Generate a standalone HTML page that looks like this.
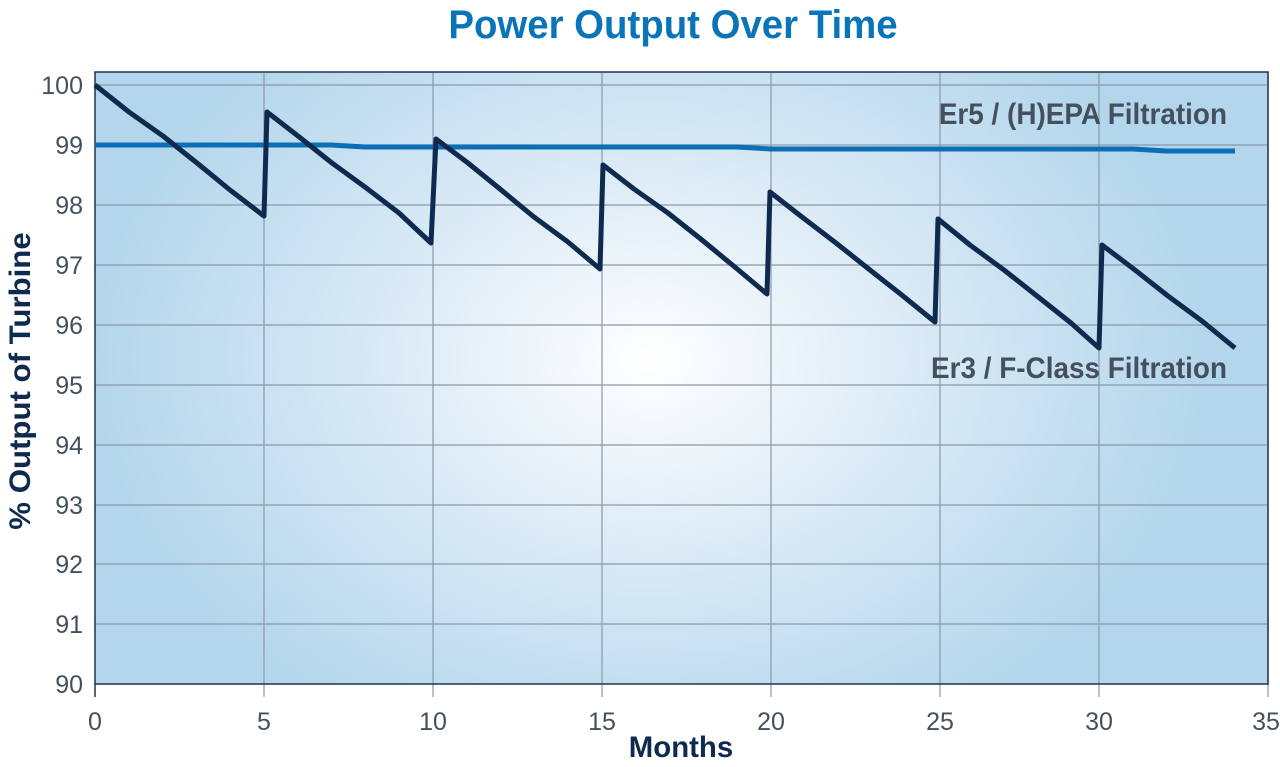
<!DOCTYPE html>
<html><head><style>
body{margin:0;background:#fff;}
</style></head><body>
<svg width="1280" height="767" viewBox="0 0 1280 767" xmlns="http://www.w3.org/2000/svg" style="display:block">
<defs>
<radialGradient id="bg" cx="650" cy="360" r="560" gradientUnits="userSpaceOnUse" gradientTransform="translate(650 360) scale(1 0.75) translate(-650 -360)">
<stop offset="0" stop-color="#ffffff"/>
<stop offset="0.45" stop-color="#dcebf6"/>
<stop offset="1" stop-color="#b3d6ec"/>
</radialGradient>
</defs>
<text x="673" y="38" text-anchor="middle" font-family="Liberation Sans, sans-serif" font-weight="bold" font-size="40" fill="#0a74b9" transform="translate(673 0) scale(0.96 1) translate(-673 0)">Power Output Over Time</text>
<rect x="95" y="72" width="1173" height="612" fill="url(#bg)"/>
<g stroke="#8a99a8" stroke-width="1.2">
<line x1="95" y1="85" x2="1268" y2="85"/><line x1="95" y1="145" x2="1268" y2="145"/><line x1="95" y1="205" x2="1268" y2="205"/><line x1="95" y1="265" x2="1268" y2="265"/><line x1="95" y1="325" x2="1268" y2="325"/><line x1="95" y1="385" x2="1268" y2="385"/><line x1="95" y1="445" x2="1268" y2="445"/><line x1="95" y1="505" x2="1268" y2="505"/><line x1="95" y1="564" x2="1268" y2="564"/><line x1="95" y1="624" x2="1268" y2="624"/>
<line x1="264" y1="72" x2="264" y2="697"/><line x1="433" y1="72" x2="433" y2="697"/><line x1="602" y1="72" x2="602" y2="697"/><line x1="771" y1="72" x2="771" y2="697"/><line x1="940" y1="72" x2="940" y2="697"/><line x1="1099" y1="72" x2="1099" y2="697"/><line x1="1268" y1="72" x2="1268" y2="697"/>
</g>
<rect x="95" y="72" width="1173" height="612" fill="none" stroke="#1b3353" stroke-width="1.5"/>
<line x1="95" y1="684" x2="95" y2="697" stroke="#1b3353" stroke-width="1.5"/>
<polyline fill="none" stroke="#0a6fb6" stroke-width="5" points="95,145 331,145 365,147 737,147 771,149 1133,149 1166,151 1235,151"/>
<polyline fill="none" stroke="#0f2a4f" stroke-width="5" stroke-linejoin="round" points="95,85 129,112 163,136 197,163 230,190 264,216 267,112 298,136 332,163 365,187 399,213 431,243 436,139 468,163 500,189 534,217 568,242 600,269 603,165 634,189 668,213 702,240 736,268 767,294 770,192 802,217 836,243 870,270 903,296 935,322 938,219 970,245 1004,270 1037,296 1071,323 1099,348 1102,245 1135,270 1168,296 1202,321 1235,348"/>
<g font-family="Liberation Sans, sans-serif" font-size="25" fill="#44505c" text-anchor="end">
<text x="83" y="94">100</text><text x="83" y="154">99</text><text x="83" y="214">98</text><text x="83" y="274">97</text><text x="83" y="334">96</text><text x="83" y="394">95</text><text x="83" y="454">94</text><text x="83" y="514">93</text><text x="83" y="573">92</text><text x="83" y="633">91</text><text x="83" y="693">90</text>
</g>
<g font-family="Liberation Sans, sans-serif" font-size="25" fill="#44505c" text-anchor="middle">
<text x="95" y="730">0</text><text x="264" y="730">5</text><text x="433" y="730">10</text><text x="602" y="730">15</text><text x="771" y="730">20</text><text x="940" y="730">25</text><text x="1099" y="730">30</text><text x="1266" y="730">35</text>
</g>
<text x="681" y="757" text-anchor="middle" font-family="Liberation Sans, sans-serif" font-weight="bold" font-size="30" fill="#0f2a4f" transform="translate(681 0) scale(0.98 1) translate(-681 0)">Months</text>
<text transform="translate(30 381) rotate(-90) scale(1.04 1)" text-anchor="middle" font-family="Liberation Sans, sans-serif" font-weight="bold" font-size="30" fill="#0f2a4f">% Output of Turbine</text>
<text x="1227" y="124" text-anchor="end" font-family="Liberation Sans, sans-serif" font-weight="bold" font-size="30" fill="#44505c" transform="translate(1227 0) scale(0.93 1) translate(-1227 0)">Er5 / (H)EPA Filtration</text>
<text x="1227" y="378" text-anchor="end" font-family="Liberation Sans, sans-serif" font-weight="bold" font-size="30" fill="#44505c" transform="translate(1227 0) scale(0.93 1) translate(-1227 0)">Er3 / F-Class Filtration</text>
</svg>
</body></html>
